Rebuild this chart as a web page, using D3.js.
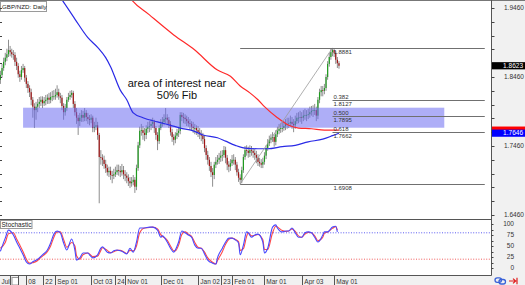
<!DOCTYPE html>
<html><head><meta charset="utf-8">
<script src="https://cdn.jsdelivr.net/npm/d3@7"></script>
<style>body{margin:0;background:#fff;overflow:hidden}svg{display:block;font-family:"Liberation Sans",Arial,sans-serif}</style>
</head><body><svg id="c" width="525" height="285"></svg>
<script>
// ---------- DATA ----------
const firstOpen = 1.842;
const closes = [
1.849,1.859,1.868,1.874,1.879,1.885,1.882,1.879,1.878,1.868,
1.862,1.850,1.846,1.856,1.859,1.845,1.836,1.830,1.824,1.813,
1.803,1.798,1.803,1.807,1.810,1.813,1.808,1.811,1.813,1.816,
1.813,1.817,1.818,1.818,1.820,1.824,1.818,1.816,1.804,1.795,
1.801,1.813,1.817,1.820,1.823,1.807,1.795,1.787,1.782,1.787,
1.791,1.787,1.794,1.788,1.785,1.784,1.787,1.772,1.774,1.776,
1.762,1.730,1.729,1.726,1.720,1.714,1.708,1.710,1.704,1.703,
1.705,1.708,1.711,1.710,1.708,1.711,1.705,1.703,1.700,1.695,
1.692,1.694,1.697,1.687,1.714,1.747,1.768,1.769,1.765,1.762,
1.771,1.774,1.775,1.778,1.781,1.772,1.762,1.753,1.772,1.778,
1.781,1.785,1.787,1.784,1.778,1.766,1.759,1.755,1.761,1.765,
1.768,1.791,1.788,1.787,1.785,1.782,1.779,1.778,1.774,1.772,
1.772,1.769,1.766,1.763,1.761,1.756,1.743,1.733,1.726,1.717,
1.708,1.704,1.719,1.723,1.726,1.729,1.732,1.733,1.740,1.729,
1.719,1.716,1.721,1.726,1.726,1.719,1.708,1.700,1.697,1.711,
1.730,1.740,1.739,1.736,1.740,1.739,1.736,1.733,1.729,1.723,
1.721,1.719,1.723,1.732,1.743,1.750,1.755,1.758,1.759,1.752,
1.763,1.768,1.771,1.772,1.772,1.775,1.778,1.778,1.779,1.781,
1.778,1.776,1.782,1.787,1.787,1.788,1.787,1.790,1.791,1.791,
1.792,1.795,1.797,1.798,1.798,1.790,1.813,1.824,1.827,1.826,
1.830,1.846,1.865,1.875,1.882,1.885,1.881,1.871,1.866,1.8623];
const highs = [
1.855,1.865,1.874,1.881,1.887,1.900,1.891,1.887,1.885,1.882,
1.874,1.866,1.855,1.862,1.865,1.862,1.849,1.840,1.834,1.829,
1.817,1.808,1.810,1.814,1.817,1.818,1.818,1.817,1.820,1.821,
1.823,1.824,1.826,1.827,1.829,1.834,1.829,1.823,1.820,1.808,
1.807,1.817,1.823,1.826,1.827,1.826,1.811,1.801,1.791,1.794,
1.798,1.797,1.801,1.798,1.794,1.791,1.792,1.790,1.781,1.787,
1.781,1.765,1.740,1.734,1.732,1.726,1.719,1.716,1.716,1.710,
1.713,1.716,1.719,1.719,1.717,1.720,1.717,1.711,1.708,1.705,
1.701,1.701,1.704,1.701,1.719,1.752,1.774,1.778,1.775,1.772,
1.776,1.781,1.782,1.785,1.787,1.784,1.775,1.766,1.776,1.785,
1.788,1.792,1.801,1.792,1.788,1.782,1.771,1.763,1.766,1.771,
1.774,1.795,1.795,1.794,1.792,1.790,1.788,1.785,1.782,1.781,
1.778,1.776,1.775,1.772,1.769,1.765,1.761,1.747,1.739,1.730,
1.723,1.714,1.723,1.730,1.733,1.736,1.739,1.740,1.746,1.745,
1.733,1.724,1.727,1.733,1.734,1.730,1.723,1.713,1.705,1.716,
1.734,1.746,1.747,1.745,1.747,1.746,1.743,1.742,1.739,1.734,
1.729,1.727,1.729,1.737,1.747,1.756,1.761,1.763,1.766,1.763,
1.769,1.774,1.778,1.779,1.781,1.782,1.785,1.787,1.787,1.790,
1.788,1.785,1.790,1.794,1.795,1.797,1.795,1.798,1.800,1.798,
1.800,1.803,1.804,1.805,1.807,1.803,1.817,1.829,1.833,1.833,
1.836,1.850,1.869,1.881,1.887,1.8881,1.888,1.884,1.875,1.869];
const lows = [
1.836,1.845,1.855,1.863,1.869,1.875,1.876,1.874,1.871,1.862,
1.856,1.845,1.839,1.842,1.852,1.839,1.830,1.823,1.817,1.805,
1.787,1.772,1.784,1.795,1.801,1.804,1.801,1.804,1.805,1.807,
1.807,1.808,1.811,1.813,1.813,1.816,1.813,1.808,1.798,1.784,
1.790,1.797,1.810,1.813,1.816,1.801,1.790,1.778,1.762,1.775,
1.781,1.781,1.782,1.782,1.778,1.776,1.779,1.766,1.766,1.769,
1.755,1.663,1.719,1.717,1.713,1.707,1.703,1.701,1.697,1.692,
1.698,1.701,1.704,1.703,1.701,1.703,1.698,1.695,1.692,1.688,
1.685,1.687,1.689,1.678,1.682,1.710,1.743,1.761,1.755,1.753,
1.756,1.765,1.766,1.769,1.772,1.765,1.755,1.740,1.749,1.769,
1.774,1.776,1.779,1.776,1.772,1.761,1.752,1.747,1.750,1.756,
1.759,1.763,1.782,1.779,1.778,1.775,1.774,1.769,1.768,1.765,
1.763,1.762,1.759,1.756,1.753,1.749,1.737,1.726,1.719,1.710,
1.701,1.687,1.698,1.714,1.719,1.720,1.723,1.724,1.729,1.721,
1.711,1.708,1.710,1.717,1.719,1.711,1.703,1.694,1.6908,1.692,
1.707,1.726,1.732,1.729,1.730,1.732,1.729,1.726,1.721,1.717,
1.716,1.714,1.714,1.719,1.727,1.739,1.746,1.750,1.752,1.745,
1.747,1.759,1.763,1.765,1.766,1.768,1.769,1.771,1.772,1.774,
1.771,1.766,1.771,1.778,1.779,1.781,1.778,1.782,1.784,1.782,
1.785,1.787,1.790,1.788,1.791,1.782,1.785,1.808,1.818,1.818,
1.821,1.826,1.842,1.861,1.871,1.876,1.875,1.865,1.859,1.858];

// moving averages (read at sparse bars)
const maBlueIdx = [30,38,46,54,60,65,68,74,78,82,88,97,105,111,119,125,134,139,145,151,159,165,174,182,190,199,205,209];
const maBlueVal = [1.984,1.958,1.930,1.903,1.889,1.874,1.861,1.827,1.813,1.794,1.787,1.781,1.776,1.772,1.768,1.762,1.758,1.753,1.747,1.743,1.742,1.742,1.745,1.747,1.752,1.756,1.761,1.7646];
const maRedIdx = [74,81,92,107,120,134,142,148,154,159,163,171,178,184,192,200,209];
const maRedVal = [1.984,1.958,1.936,1.907,1.885,1.856,1.847,1.833,1.823,1.813,1.803,1.787,1.776,1.772,1.771,1.769,1.769];

// stochastic
const stochIdx = [0,3,5,8,10,12,14,16,18,20,23,24,26,29,31,33,35,37,39,41,44,46,47,49,51,54,55,57,60,62,63,66,68,70,72,74,76,78,80,82,84,86,89,92,94,97,99,100,103,105,107,108,110,112,114,116,118,120,122,124,126,128,131,133,134,137,139,141,143,145,147,148,150,152,153,155,157,159,162,163,165,168,170,171,174,176,178,180,182,184,186,188,190,192,194,196,199,200,202,205,207,208];
const stochK = [38,68,86,75,59,45,30,14,9,14,20,23,30,41,57,77,84,80,57,41,66,40,18,23,34,34,30,23,30,45,48,36,34,39,41,39,36,32,45,36,59,91,91,93,93,86,70,73,59,45,36,41,59,84,80,75,70,52,45,45,32,18,11,9,23,45,59,68,68,64,57,30,52,82,80,70,75,77,59,34,45,93,98,91,82,84,84,91,80,70,70,80,82,80,70,59,75,82,82,93,95,82];
const stochD = [45,58,78,80,66,52,37,20,11,12,17,21,27,37,50,70,82,82,65,47,58,50,28,20,30,34,32,26,27,40,46,40,35,37,40,40,37,33,40,39,50,80,91,92,93,89,76,72,63,50,39,39,52,76,82,77,72,58,47,45,36,23,13,9,17,37,54,65,68,65,60,40,44,72,80,73,74,76,64,42,42,80,95,93,85,83,84,89,83,73,70,77,81,80,73,62,70,79,82,90,94,86];
const stochLevels = [80, 20];

// fibonacci
const fibStart = 148, fibEnd = 205, fibRay = 299;
const fibNames = ["", "0.382", "0.500", "0.618", ""];
const fibPrices = [1.8881, 1.8127, 1.7895, 1.7662, 1.6908];
// zone
const zoneStart = 14, zoneEnd = 274, zoneHigh = 1.8015, zoneLow = 1.7725;
const zoneText = ["area of interest near", "50% Fib"];
const zoneTextIdx = 109, zoneTextPrice = [1.8319, 1.8145];

// axes
const priceLabels = [1.9460, 1.8460, 1.7460, 1.6460];
const priceTickStep = 0.02;
const stochLabels = [100, 75, 50, 25, 0];
const xTickIdx = [6, 11, 16, 26, 34, 56, 71, 77, 99, 122, 136, 143, 163, 186, 206];
const xTickText = ["", "", "08", "22", "Sep 01", "Oct 03", "24", "Nov 01", "Dec 01", "Jan 02", "23", "Feb 01", "Mar 01", "Apr 03", "May 01"];
const xBoxTick = 6;
const firstLabel = "Jul";
const currentPrice = 1.8623, blueLabel = 1.7646, redLabel = 1.7690;
const title = "GBP/NZD: Daily", stochTitle = "Stochastic";

// ---------- DRAW ----------
const svg = d3.select("#c");
const plotR = 491.5, mainTop = 0.5, mainBot = 219.5, stBot = 275;
const x = d3.scaleLinear().domain([0, 300]).range([0.4, 0.4 + 1.62 * 300]);
const y = d3.scaleLinear().domain([1.646, 1.946]).range([215, 8]);
const ys = d3.scaleLinear().domain([0, 100]).range([268, 224]);

svg.append("rect").attr("width", 525).attr("height", 285).attr("fill", "#fff");
svg.append("rect").attr("x", plotR).attr("y", 0).attr("width", 525 - plotR).attr("height", 285).attr("fill", "#f1f1f1");
svg.append("rect").attr("x", 0).attr("y", stBot).attr("width", 525).attr("height", 285 - stBot).attr("fill", "#f1f1f1");

const defs = svg.append("defs");
defs.append("clipPath").attr("id", "cm").append("rect").attr("x", 0).attr("y", 1).attr("width", plotR).attr("height", mainBot - 1);
defs.append("clipPath").attr("id", "cs").append("rect").attr("x", 0).attr("y", mainBot + 0.5).attr("width", plotR).attr("height", stBot - mainBot - 0.5);

const gm = svg.append("g").attr("clip-path", "url(#cm)");
const bars = closes.map((c, i) => ({ i, o: i === 0 ? firstOpen : closes[i - 1], h: highs[i], l: lows[i], c }));
gm.selectAll("line.w").data(bars).join("line")
  .attr("x1", d => x(d.i)).attr("x2", d => x(d.i))
  .attr("y1", d => y(d.h)).attr("y2", d => y(d.l))
  .attr("stroke", "#8e8e8e").attr("stroke-width", 1);
gm.selectAll("rect.b").data(bars).join("rect")
  .attr("x", d => x(d.i) - 0.6).attr("width", 1.2)
  .attr("y", d => y(Math.max(d.o, d.c)))
  .attr("height", d => Math.max(0.8, Math.abs(y(d.o) - y(d.c))))
  .attr("fill", d => d.c >= d.o ? "#1f9a1f" : "#a01515");

// zone
gm.append("rect").attr("x", x(zoneStart)).attr("width", x(zoneEnd) - x(zoneStart))
  .attr("y", y(zoneHigh)).attr("height", y(zoneLow) - y(zoneHigh))
  .attr("fill", "#6b6bf0").attr("opacity", 0.55);

// MAs
const ln = d3.line().x(d => x(d[0])).y(d => y(d[1])).curve(d3.curveMonotoneX);
gm.append("path").attr("d", ln(d3.zip(maRedIdx, maRedVal))).attr("fill", "none").attr("stroke", "#ff2a2a").attr("stroke-width", 1.2);
gm.append("path").attr("d", ln(d3.zip(maBlueIdx, maBlueVal))).attr("fill", "none").attr("stroke", "#2a2ae6").attr("stroke-width", 1.2);

// fib
gm.append("line").attr("x1", x(fibStart)).attr("y1", y(fibPrices[4])).attr("x2", x(fibEnd)).attr("y2", y(fibPrices[0]))
  .attr("stroke", "#9a9a9a").attr("stroke-width", 0.8);
fibPrices.forEach((p, k) => {
  const extreme = (k === 0 || k === fibPrices.length - 1);
  const xs = extreme ? x(fibStart) : x(fibEnd);
  const yy = Math.round(y(p)) + 0.5;
  gm.append("line").attr("x1", xs).attr("x2", x(fibRay)).attr("y1", yy).attr("y2", yy)
    .attr("stroke", "#707070").attr("stroke-width", 1);
  if (fibNames[k]) gm.append("text").attr("x", x(fibEnd) + 1).attr("y", yy - 1.8).attr("font-size", 6).attr("fill", "#333").text(fibNames[k]);
  gm.append("text").attr("x", x(fibEnd) + 1).attr("y", yy + 5.3).attr("font-size", 6).attr("fill", "#333").text(p.toFixed(4));
});

// zone text
zoneText.forEach((t, k) => {
  gm.append("text").attr("x", x(zoneTextIdx)).attr("y", y(zoneTextPrice[k])).attr("text-anchor", "middle")
    .attr("font-size", 11).attr("fill", "#111").text(t);
});

// title box
svg.append("rect").attr("x", 0.5).attr("y", 1.5).attr("width", 46).attr("height", 10).attr("fill", "#fff").attr("stroke", "#9a9a9a");
svg.append("text").attr("x", 2).attr("y", 9.3).attr("font-size", 6.2).attr("fill", "#222").text(title);

// stochastic
const gs = svg.append("g").attr("clip-path", "url(#cs)");
stochLevels.forEach((v, k) => {
  gs.append("line").attr("x1", 0).attr("x2", plotR).attr("y1", ys(v)).attr("y2", ys(v))
    .attr("stroke", k === 0 ? "#4a4af0" : "#f04a4a").attr("stroke-width", 0.9).attr("stroke-dasharray", "1,1.6");
});
const ls = d3.line().x(d => x(d[0])).y(d => ys(d[1])).curve(d3.curveMonotoneX);
gs.append("path").attr("d", ls(d3.zip(stochIdx, stochD))).attr("fill", "none").attr("stroke", "#ff4848").attr("stroke-width", 1.1);
gs.append("path").attr("d", ls(d3.zip(stochIdx, stochK))).attr("fill", "none").attr("stroke", "#4848ff").attr("stroke-width", 1.1);
svg.append("rect").attr("x", 0.5).attr("y", 220.5).attr("width", 31.5).attr("height", 8).attr("fill", "#fff").attr("stroke", "#9a9a9a");
svg.append("text").attr("x", 1.5).attr("y", 227).attr("font-size", 6.5).attr("fill", "#222").text(stochTitle);

// frames
svg.append("line").attr("x1", 0).attr("x2", 525).attr("y1", mainTop).attr("y2", mainTop).attr("stroke", "#777");
svg.append("line").attr("x1", 0).attr("x2", plotR).attr("y1", mainBot).attr("y2", mainBot).attr("stroke", "#555");
svg.append("line").attr("x1", 0).attr("x2", plotR).attr("y1", stBot + 0.5).attr("y2", stBot + 0.5).attr("stroke", "#555");
svg.append("line").attr("x1", plotR).attr("x2", plotR).attr("y1", 0).attr("y2", stBot + 0.5).attr("stroke", "#555");

// right price axis
const priceTicks = d3.range(0, 16).map(k => 1.946 - k * priceTickStep);
priceTicks.forEach(p => {
  const yy = Math.round(y(p)) + 0.5;
  svg.append("line").attr("x1", plotR).attr("x2", plotR + 3).attr("y1", yy).attr("y2", yy).attr("stroke", "#444");
  svg.append("line").attr("x1", 0).attr("x2", 2).attr("y1", yy).attr("y2", yy).attr("stroke", "#444");
});
priceLabels.forEach(p => {
  svg.append("text").attr("x", 504).attr("y", y(p) + 2.3).attr("font-size", 6.5).attr("fill", "#333").text(p.toFixed(4));
});
// stoch axis
d3.range(0, 101, 12.5).forEach(v => {
  const yy = Math.round(ys(v)) + 0.5;
  svg.append("line").attr("x1", plotR).attr("x2", plotR + 2).attr("y1", yy).attr("y2", yy).attr("stroke", "#444");
});
stochLabels.forEach(v => {
  svg.append("text").attr("x", 514).attr("y", ys(v) + 2.3).attr("text-anchor", "end").attr("font-size", 6.5).attr("fill", "#333").text(v);
});

// price markers (red MA marker sits under the blue one)
function marker(p, bg, txt) {
  const yy = y(p);
  svg.append("rect").attr("x", plotR + 0.5).attr("y", yy - 3.6).attr("width", 525 - plotR).attr("height", 7.2).attr("fill", bg);
  if (txt) svg.append("text").attr("x", 523).attr("y", yy + 2.3).attr("text-anchor", "end").attr("font-size", 6.5).attr("fill", "#fff").text(txt);
}
marker(redLabel, "#ff0000", null);
marker(blueLabel, "#0000ff", blueLabel.toFixed(4));
marker(currentPrice, "#000", currentPrice.toFixed(4));

// time axis
svg.append("text").attr("x", 1.5).attr("y", 283.5).attr("font-size", 6.5).attr("fill", "#333").text(firstLabel);
xTickIdx.forEach((ti, k) => {
  const xx = Math.round(x(ti)) + 0.5;
  svg.append("line").attr("x1", xx).attr("x2", xx).attr("y1", stBot + 0.5).attr("y2", 285).attr("stroke", "#555");
  if (ti === xBoxTick) {
    svg.append("rect").attr("x", xx + 1.5).attr("y", 277.5).attr("width", 6.5).attr("height", 7.5).attr("fill", "#fff").attr("stroke", "#999");
  }
  if (xTickText[k]) svg.append("text").attr("x", xx + 1.8).attr("y", 283.5).attr("font-size", 6.5).attr("fill", "#333").text(xTickText[k]);
});

// bottom-right icons
const ic = svg.append("g");
ic.append("rect").attr("x", 495).attr("y", 277.8).attr("width", 6.5).attr("height", 4.5).attr("rx", 2.2).attr("fill", "none").attr("stroke", "#3a62d8").attr("stroke-width", 1.3);
ic.append("rect").attr("x", 499).attr("y", 279.5).attr("width", 6.5).attr("height", 4.5).attr("rx", 2.2).attr("fill", "none").attr("stroke", "#3a62d8").attr("stroke-width", 1.3);
ic.append("path").attr("d", "M509,281 L515.5,281 M513,278.6 L515.7,281 L513,283.4 M517,277.8 L517,284.2").attr("stroke", "#e02020").attr("stroke-width", 1.2).attr("fill", "none");
</script></body></html>
